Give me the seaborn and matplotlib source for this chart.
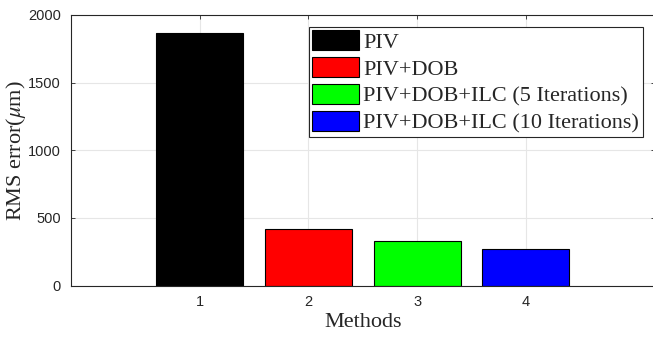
import numpy as np
import pandas as pd
import seaborn as sns
import matplotlib.pyplot as plt

# valeurs
methods = ['1', '2', '3', '4']
rms_error = [1868, 418, 326, 270]
labels = ['PIV', 'PIV+DOB', 'PIV+DOB+ILC (5 Iterations)', 'PIV+DOB+ILC (10 Iterations)']
colors = ['#000000', '#ff0000', '#00ff00', '#0000ff']

df = pd.DataFrame({'Method': methods, 'RMS': rms_error, 'Label': labels})

sns.set_style('white')
plt.rcParams['font.family'] = ['Liberation Sans', 'DejaVu Sans']
plt.rcParams['mathtext.fontset'] = 'stix'

fig = plt.figure(figsize=(6.53, 3.38), dpi=100)
ax = fig.add_axes([0.108, 0.155, 0.895, 0.801])

sns.barplot(data=df, x='Method', y='RMS', hue='Label', palette=colors,
            dodge=False, width=0.8, edgecolor='black', linewidth=0.8,
            saturation=1, ax=ax)

ax.set_xlim(-1.19, 4.19)
ax.set_ylim(0, 2000)
ax.set_yticks([0, 500, 1000, 1500, 2000])
ax.grid(True, color='#e6e6e6', linewidth=0.8)
ax.set_axisbelow(True)
for s in ax.spines.values():
    s.set_color('#262626')
    s.set_linewidth(0.8)
ax.tick_params(direction='in', length=3, width=0.6, color='#262626',
               labelcolor='#262626', labelsize=10.5, top=True, right=True,
               bottom=True, left=True, pad=7)

serif = ['Liberation Serif', 'DejaVu Serif']
ax.set_xlabel('Methods', family=serif, fontsize=16, color='#262626', labelpad=3)
ax.set_ylabel(r'RMS error($\mu$m)', family=serif, fontsize=16, color='#262626', labelpad=0)

leg = ax.legend(loc='upper right', bbox_to_anchor=(0.979, 0.956),
                prop={'family': serif, 'size': 16}, frameon=True, fancybox=False,
                edgecolor='#262626', framealpha=1, borderpad=0.15,
                handlelength=2.1, handleheight=1.0, handletextpad=0.2,
                labelspacing=0.2, borderaxespad=0)
leg.get_frame().set_linewidth(0.8)

fig.savefig('out.png', dpi=100)
